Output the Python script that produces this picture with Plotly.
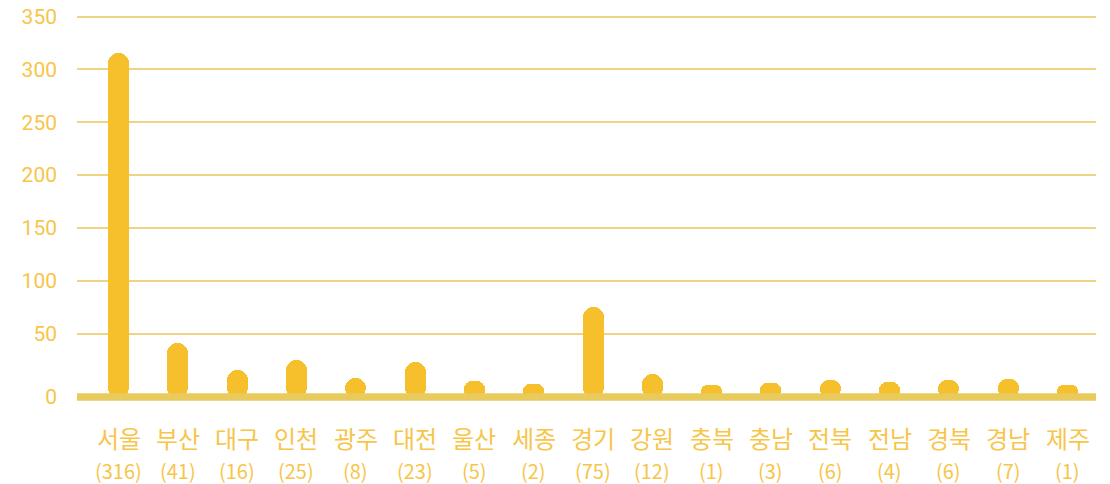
import plotly.graph_objects as go

regions = ["서울", "부산", "대구", "인천", "광주", "대전", "울산", "세종", "경기",
           "강원", "충북", "충남", "전북", "전남", "경북", "경남", "제주"]
counts = [316, 41, 16, 25, 8, 23, 5, 2, 75, 12, 1, 3, 6, 4, 6, 7, 1]
y_ticks = [0, 50, 100, 150, 200, 250, 300, 350]

BAR = "#F6BF2C"
TXT = "#F7C54A"
GRID = "#EFD483"
BASE_LINE = "#E9CA5C"
BASE = -11  # baseline drawn slightly below zero, as in the reference

x = list(range(len(regions)))

fig = go.Figure()
fig.add_trace(go.Bar(
    x=x, y=[c - BASE for c in counts], base=BASE,
    width=0.355,
    marker=dict(color=BAR, line=dict(width=0), cornerradius=10),
    customdata=counts,
    hovertemplate="%{text}: %{customdata}<extra></extra>",
    text=regions, textposition="none",
))

tickvals = [BASE + 1 if v == 0 else v for v in y_ticks]
fig.update_yaxes(
    range=[-16.6, 356.3], automargin=False,
    tickvals=tickvals, ticktext=[str(v) for v in y_ticks],
    showgrid=True, gridcolor=GRID, gridwidth=1.5,
    zeroline=False, showline=False,
    tickfont=dict(family="Roboto", size=21, color=TXT),
    ticklabelstandoff=19,
)
fig.update_xaxes(
    range=[-0.70, 16.48], showticklabels=False, showgrid=False,
    zeroline=False, showline=False, automargin=False,
)

fig.add_shape(type="line", xref="paper", yref="y", x0=0, x1=1,
              y0=BASE + 1, y1=BASE + 1, line=dict(color=BASE_LINE, width=7.5),
              layer="above")

top, bottom = 10, 404


def paper_y(py):
    return (bottom - py) / (bottom - top)


for i, (r, c) in enumerate(zip(regions, counts)):
    fig.add_annotation(x=i, xref="x", y=paper_y(437.5), yref="paper", yanchor="middle",
                       text=r, showarrow=False,
                       font=dict(family="Noto Sans CJK KR", size=24, color=TXT))
    fig.add_annotation(x=i, xref="x", y=paper_y(470), yref="paper", yanchor="middle",
                       text=f"({c})", showarrow=False,
                       font=dict(family="Noto Sans CJK KR", size=20, color=TXT))

fig.update_layout(
    width=1110, height=484,
    margin=dict(l=77, r=14, t=top, b=484 - bottom),
    plot_bgcolor="white", paper_bgcolor="white",
    showlegend=False, bargap=0,
)
fig.write_html("out.html", config={"displayModeBar": False},
               post_script="document.body.style.margin='0';")
